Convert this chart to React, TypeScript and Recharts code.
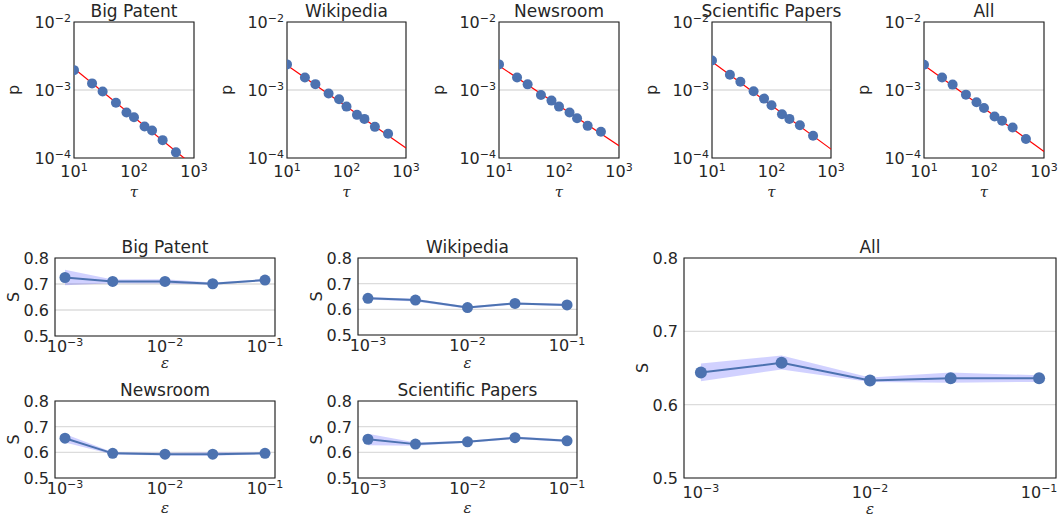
import React from "react";
import {
  ComposedChart,
  Line,
  Area,
  XAxis,
  YAxis,
  CartesianGrid,
  ReferenceArea,
} from "recharts";

const INK = "#262626";
const BLUE = "#4c72b0";
const GRID = "#dcdcdc";
const FONT = "DejaVu Sans, sans-serif";

// ---- top row: p(τ) on log-log axes ----
const tau = [10, 20, 30, 50, 75, 100, 150, 200, 300, 500];
const pBigPatent = [1.96e-3, 1.25e-3, 9.5e-4, 6.5e-4, 4.66e-4, 3.98e-4, 2.9e-4, 2.54e-4, 1.83e-4, 1.21e-4];
const pWikipedia = [2.38e-3, 1.53e-3, 1.22e-3, 8.9e-4, 7.3e-4, 5.7e-4, 4.31e-4, 3.76e-4, 2.87e-4, 2.27e-4];
const pNewsroom = [2.38e-3, 1.53e-3, 1.21e-3, 8.45e-4, 6.98e-4, 5.7e-4, 4.66e-4, 3.85e-4, 2.97e-4, 2.43e-4];
const pScientific = [2.72e-3, 1.68e-3, 1.32e-3, 9.56e-4, 7.47e-4, 5.97e-4, 4.4e-4, 3.76e-4, 3.04e-4, 2.12e-4];
const pAll = [2.35e-3, 1.53e-3, 1.2e-3, 8.55e-4, 6.6e-4, 5.45e-4, 4.07e-4, 3.52e-4, 2.81e-4, 1.9e-4];

const fitTau = [10, 1000];
const fitBigPatent = [2.07e-3, 7.6e-5];
const fitWikipedia = [2.32e-3, 1.4e-4];
const fitNewsroom = [2.27e-3, 1.51e-4];
const fitScientific = [2.6e-3, 1.35e-4];
const fitAll = [2.32e-3, 1.25e-4];

// ---- bottom: S vs ε ----
const eps = [1e-3, 3e-3, 1e-2, 3e-2, 1e-1];
const sBigPatent = [0.725, 0.71, 0.71, 0.701, 0.715];
const loBigPatent = [0.695, 0.703, 0.702, 0.697, 0.711];
const hiBigPatent = [0.755, 0.717, 0.718, 0.706, 0.719];
const sWikipedia = [0.643, 0.636, 0.607, 0.623, 0.617];
const loWikipedia = [0.638, 0.631, 0.602, 0.619, 0.612];
const hiWikipedia = [0.648, 0.641, 0.611, 0.627, 0.622];
const sNewsroom = [0.655, 0.596, 0.593, 0.593, 0.596];
const loNewsroom = [0.638, 0.592, 0.588, 0.587, 0.593];
const hiNewsroom = [0.671, 0.6, 0.598, 0.6, 0.599];
const sScientific = [0.651, 0.632, 0.641, 0.657, 0.645];
const loScientific = [0.628, 0.626, 0.637, 0.652, 0.64];
const hiScientific = [0.672, 0.638, 0.645, 0.662, 0.65];
const sAll = [0.644, 0.657, 0.633, 0.636, 0.636];
const loAll = [0.632, 0.648, 0.631, 0.63, 0.631];
const hiAll = [0.656, 0.667, 0.637, 0.644, 0.64];

const EPS_DOMAIN = [Math.pow(10, -3.1), Math.pow(10, -0.9)];

type Box = { x: number; y: number; w: number; h: number };

const expLabel = (v: number) => {
  const e = Math.round(Math.log10(v));
  return e < 0 ? "\u2212" + -e : String(e);
};

function PowXTick({ x, y, payload, off }: any) {
  return (
    <text x={x} y={y + off} textAnchor="middle" fill={INK} fontSize={16} fontFamily={FONT}>
      10
      <tspan dy={-6} fontSize={11}>
        {expLabel(payload.value)}
      </tspan>
    </text>
  );
}

function PowYTick({ x, y, payload }: any) {
  return (
    <text x={x - 3} y={y + 6} textAnchor="end" fill={INK} fontSize={16} fontFamily={FONT}>
      10
      <tspan dy={-6} fontSize={11}>
        {expLabel(payload.value)}
      </tspan>
    </text>
  );
}

function NumYTick({ x, y, payload }: any) {
  return (
    <text x={x - 6} y={y + 6} textAnchor="end" fill={INK} fontSize={16} fontFamily={FONT}>
      {payload.value.toFixed(1)}
    </text>
  );
}

function TauPanel({ box, p, fit }: { box: Box; p: number[]; fit: number[] }) {
  const points = tau.map((t, i) => ({ t, p: p[i] }));
  const line = fitTau.map((t, i) => ({ t, p: fit[i] }));
  const L = 60, T = 10, R = 25, B = 30;
  return (
    <div style={{ position: "absolute", left: box.x - L, top: box.y - T }}>
      <ComposedChart
        width={box.w + L + R}
        height={box.h + T + B}
        margin={{ top: T, right: R, bottom: 0, left: 0 }}
      >
        <CartesianGrid vertical={false} stroke={GRID} strokeWidth={1.3} />
        <XAxis
          type="number"
          dataKey="t"
          scale="log"
          domain={[10, 1000]}
          ticks={[10, 100, 1000]}
          allowDataOverflow
          axisLine={false}
          tickLine={false}
          tickSize={0}
          tickMargin={0}
          interval={0}
          height={B}
          tick={(props: any) => <PowXTick {...props} off={19} />}
        />
        <YAxis
          type="number"
          dataKey="p"
          scale="log"
          domain={[1e-4, 1e-2]}
          ticks={[1e-4, 1e-3, 1e-2]}
          allowDataOverflow
          axisLine={false}
          tickLine={false}
          tickSize={0}
          tickMargin={0}
          interval={0}
          width={L}
          tick={(props: any) => <PowYTick {...props} />}
        />
        <Line
          data={points}
          dataKey="p"
          stroke="none"
          dot={{ r: 5, fill: BLUE, stroke: "none" }}
          activeDot={false}
          isAnimationActive={false}
        />
        <Line
          data={line}
          dataKey="p"
          type="linear"
          stroke="#ff0000"
          strokeWidth={1.2}
          dot={false}
          activeDot={false}
          isAnimationActive={false}
        />
        <ReferenceArea x1={10} x2={1000} y1={1e-4} y2={1e-2} fill="none" stroke={INK} strokeWidth={1.2} />
      </ComposedChart>
    </div>
  );
}

function EpsPanel({
  box,
  s,
  lo,
  hi,
  xOff,
  r,
}: {
  box: Box;
  s: number[];
  lo: number[];
  hi: number[];
  xOff: number;
  r: number;
}) {
  const rows = eps.map((e, i) => ({ e, s: s[i], band: [lo[i], hi[i]] }));
  const L = 50, T = 10, R = 25, B = 30;
  return (
    <div style={{ position: "absolute", left: box.x - L, top: box.y - T }}>
      <ComposedChart
        data={rows}
        width={box.w + L + R}
        height={box.h + T + B}
        margin={{ top: T, right: R, bottom: 0, left: 0 }}
      >
        <CartesianGrid vertical={false} stroke={GRID} strokeWidth={1.3} />
        <XAxis
          type="number"
          dataKey="e"
          scale="log"
          domain={EPS_DOMAIN}
          ticks={[1e-3, 1e-2, 1e-1]}
          allowDataOverflow
          axisLine={false}
          tickLine={false}
          tickSize={0}
          tickMargin={0}
          interval={0}
          height={B}
          tick={(props: any) => <PowXTick {...props} off={xOff} />}
        />
        <YAxis
          type="number"
          domain={[0.5, 0.8]}
          ticks={[0.5, 0.6, 0.7, 0.8]}
          allowDataOverflow
          axisLine={false}
          tickLine={false}
          tickSize={0}
          tickMargin={0}
          interval={0}
          width={L}
          tick={(props: any) => <NumYTick {...props} />}
        />
        <Area
          dataKey="band"
          type="linear"
          fill="#0000ff"
          fillOpacity={0.18}
          stroke="none"
          activeDot={false}
          isAnimationActive={false}
        />
        <Line
          dataKey="s"
          type="linear"
          stroke={BLUE}
          strokeWidth={2}
          dot={{ r, fill: BLUE, stroke: "none" }}
          activeDot={false}
          isAnimationActive={false}
        />
        <ReferenceArea
          x1={EPS_DOMAIN[0]}
          x2={EPS_DOMAIN[1]}
          y1={0.5}
          y2={0.8}
          fill="none"
          stroke={INK}
          strokeWidth={1.2}
        />
      </ComposedChart>
    </div>
  );
}

const topBoxes: Box[] = [
  { x: 74, y: 22, w: 120, h: 136 },
  { x: 287, y: 22, w: 119, h: 136 },
  { x: 499, y: 22, w: 120, h: 136 },
  { x: 712, y: 22, w: 119, h: 136 },
  { x: 924, y: 22, w: 120, h: 136 },
];
const topTitles = ["Big Patent", "Wikipedia", "Newsroom", "Scientific Papers", "All"];
const topP = [pBigPatent, pWikipedia, pNewsroom, pScientific, pAll];
const topFit = [fitBigPatent, fitWikipedia, fitNewsroom, fitScientific, fitAll];

const bpBox: Box = { x: 55, y: 258, w: 220, h: 78 };
const wkBox: Box = { x: 358, y: 258, w: 219, h: 77 };
const nrBox: Box = { x: 55, y: 401, w: 220, h: 77 };
const spBox: Box = { x: 358, y: 401, w: 219, h: 77 };
const allBox: Box = { x: 684, y: 258, w: 372, h: 220 };

function Labels({ box, title, yl, ylOff, xl, xlOff }: any) {
  const cx = box.x + box.w / 2;
  const cy = box.y + box.h / 2;
  const yx = box.x - ylOff;
  return (
    <g fill={INK}>
      <text x={cx} y={box.y - 5} textAnchor="middle" fontSize={17} fontFamily={FONT}>
        {title}
      </text>
      <text x={yx} y={cy} textAnchor="middle" fontSize={16} fontFamily={FONT} transform={`rotate(-90 ${yx} ${cy})`}>
        {yl}
      </text>
      <text
        x={cx}
        y={box.y + box.h + xlOff}
        textAnchor="middle"
        fontSize={15}
        fontStyle="italic"
        fontFamily="DejaVu Serif, serif"
      >
        {xl}
      </text>
    </g>
  );
}

export default function App() {
  return (
    <div
      style={{
        position: "absolute",
        left: 0,
        top: 0,
        width: 1060,
        height: 518,
        background: "#fff",
        fontFamily: FONT,
        overflow: "hidden",
      }}
    >
      {topBoxes.map((b, i) => (
        <TauPanel key={topTitles[i]} box={b} p={topP[i]} fit={topFit[i]} />
      ))}
      <EpsPanel box={bpBox} s={sBigPatent} lo={loBigPatent} hi={hiBigPatent} xOff={16} r={5.5} />
      <EpsPanel box={wkBox} s={sWikipedia} lo={loWikipedia} hi={hiWikipedia} xOff={16} r={5.5} />
      <EpsPanel box={nrBox} s={sNewsroom} lo={loNewsroom} hi={hiNewsroom} xOff={16} r={5.5} />
      <EpsPanel box={spBox} s={sScientific} lo={loScientific} hi={hiScientific} xOff={16} r={5.5} />
      <EpsPanel box={allBox} s={sAll} lo={loAll} hi={hiAll} xOff={20} r={6} />
      <svg
        width={1060}
        height={518}
        style={{ position: "absolute", left: 0, top: 0, pointerEvents: "none" }}
      >
        {topBoxes.map((b, i) => (
          <Labels key={topTitles[i]} box={b} title={topTitles[i]} yl="p" ylOff={55} xl={"\u03c4"} xlOff={39} />
        ))}
        <Labels box={bpBox} title="Big Patent" yl="S" ylOff={36} xl={"\u03b5"} xlOff={32} />
        <Labels box={wkBox} title="Wikipedia" yl="S" ylOff={36} xl={"\u03b5"} xlOff={33} />
        <Labels box={nrBox} title="Newsroom" yl="S" ylOff={36} xl={"\u03b5"} xlOff={35} />
        <Labels box={spBox} title="Scientific Papers" yl="S" ylOff={36} xl={"\u03b5"} xlOff={35} />
        <Labels box={allBox} title="All" yl="S" ylOff={36} xl={"\u03b5"} xlOff={36} />
      </svg>
    </div>
  );
}
